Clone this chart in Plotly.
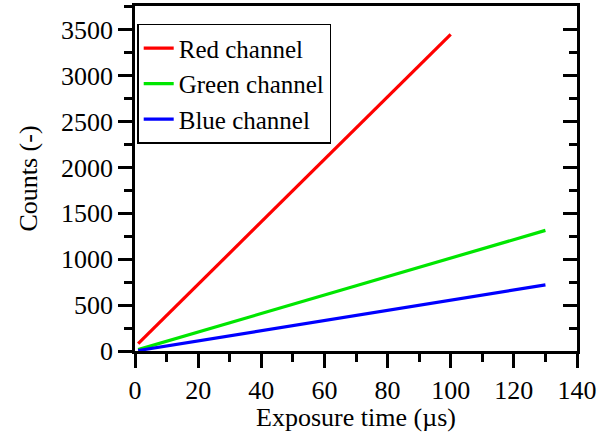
import plotly.graph_objects as go

# Data
series_names = ["Red channel", "Green channel", "Blue channel"]
series_colors = ["#ff0000", "#00e600", "#0000ff"]
red_x = [1, 50, 100]
red_y = [80, 1745, 3450]
green_x = [1, 65, 130]
green_y = [15, 660, 1315]
blue_x = [1, 65, 130]
blue_y = [5, 360, 720]

x_range = [0, 140]
y_range = [0, 3760]
x_major, x_minor = 20, 10
y_major, y_minor = 500, 250

FONT = "Liberation Serif, Times New Roman, serif"
tf = dict(family=FONT, size=26, color="black")

fig = go.Figure()
for name, color, xs, ys in zip(series_names, series_colors,
                               [red_x, green_x, blue_x], [red_y, green_y, blue_y]):
    fig.add_trace(go.Scatter(x=xs, y=ys, mode="lines", name=name,
                             line=dict(color=color, width=3.2)))
# empty trace so the mirrored right axis (inward ticks) is drawn
fig.add_trace(go.Scatter(x=[], y=[], xaxis="x", yaxis="y2", showlegend=False, hoverinfo="skip"))

fig.update_layout(
    width=609, height=432,
    margin=dict(l=135, r=32, t=6, b=81),
    paper_bgcolor="white", plot_bgcolor="white",
    font=tf,
    xaxis=dict(range=x_range, dtick=x_major, showline=True, mirror=True,
               linecolor="black", linewidth=2.5, showgrid=False, zeroline=False,
               ticks="outside", ticklen=14, tickwidth=3, tickcolor="#000000",
               minor=dict(ticks="outside", ticklen=8, dtick=x_minor, tickwidth=3,
                          tickcolor="#000000"),
               title=dict(text="Exposure time (µs)", standoff=2, font=tf),
               tickfont=tf, automargin=False),
    yaxis=dict(range=y_range, dtick=y_major, showline=True,
               linecolor="black", linewidth=2.5, showgrid=False, zeroline=False,
               ticks="outside", ticklen=14, tickwidth=2.5, tickcolor="black",
               minor=dict(ticks="outside", ticklen=8, dtick=y_minor, tickwidth=2.5,
                          tickcolor="black"),
               title=dict(text="Counts (-)", standoff=16, font=tf),
               tickfont=tf, automargin=False),
    yaxis2=dict(range=y_range, dtick=y_major, overlaying="y", side="right", anchor="x",
                showticklabels=False, showline=True, linecolor="black", linewidth=2.5,
                showgrid=False, zeroline=False,
                ticks="inside", ticklen=14, tickwidth=2.5, tickcolor="black",
                minor=dict(ticks="inside", ticklen=8, dtick=y_minor, tickwidth=2.5,
                           tickcolor="black"),
                automargin=False),
    legend=dict(x=0.005, y=0.948, xanchor="left", yanchor="top",
                bgcolor="white", bordercolor="black", borderwidth=1.5,
                font=dict(family=FONT, size=25, color="black"),
                itemwidth=30, tracegroupgap=0),
    showlegend=True,
)

fig.write_html("out.html")
